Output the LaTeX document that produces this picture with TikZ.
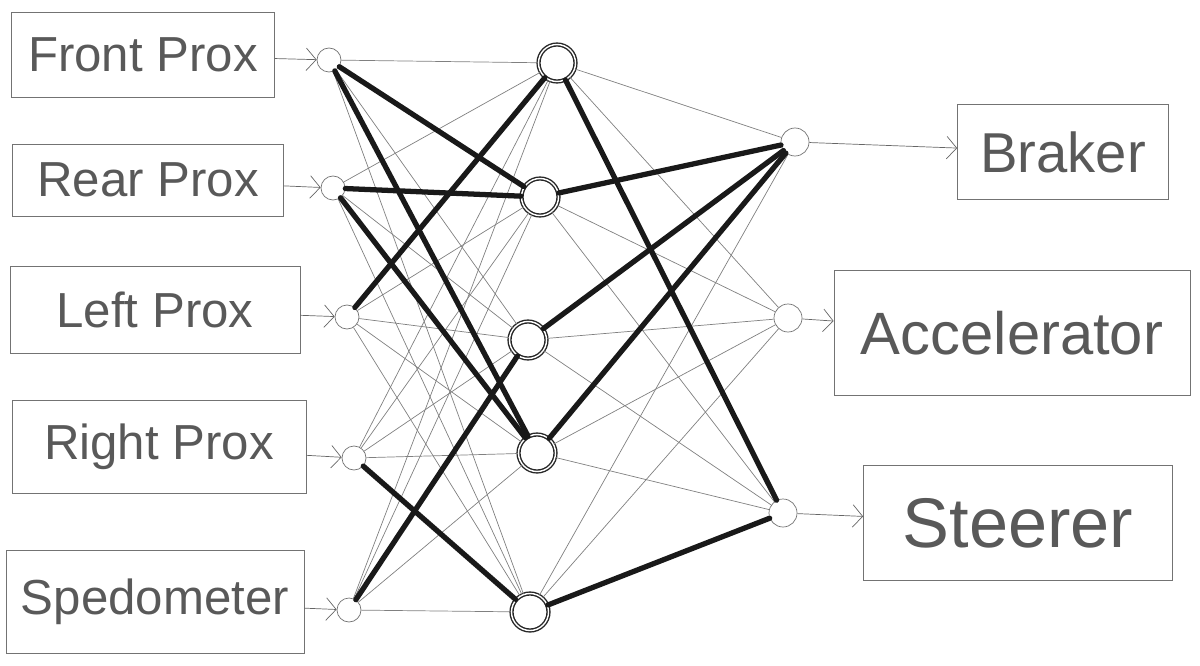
\documentclass[tikz,border=0pt]{standalone}
\usepackage{fontspec}
\setmainfont{Liberation Sans}
\usetikzlibrary{arrows.meta}

\tikzset{
  sensor/.style={draw=black!55, thin, text=black!65, font=\fontsize{28}{32}\selectfont, inner sep=0pt},
  output/.style={draw=black!55, thin, text=black!65, inner sep=0pt},
  in node/.style={circle, draw=black!55, thin, minimum size=4.8mm, inner sep=0pt},
  hidden node/.style={circle, draw=black!85, line width=0.8pt, double=white, double distance=0.8pt, minimum size=7.4mm, inner sep=0pt},
  out node/.style={circle, draw=black!55, thin, minimum size=5.6mm, inner sep=0pt},
  feed/.style={draw=black!60, thin, -{Straight Barb[length=2mm, width=4.5mm]}},
  mesh/.style={draw=black!50, thin},
  strong/.style={draw=black!90, line width=3pt, line cap=round}
}

\begin{document}
\begin{tikzpicture}[x=0.2mm, y=-0.2mm]
\useasboundingbox (0,0) rectangle (1200,665);

% sensors
\node[sensor, minimum width=52.6mm, minimum height=17mm] (front) at (143,55) {Front Prox};
\node[sensor, minimum width=54.2mm, minimum height=14.4mm] (rear) at (148,180) {Rear Prox};
\node[sensor, minimum width=58mm, minimum height=17.4mm] (left) at (155,310) {Left Prox};
\node[sensor, minimum width=58.8mm, minimum height=18.6mm] (right) at (159,447) {Right Prox};
\node[sensor, minimum width=59.6mm, minimum height=20.6mm] (speed) at (155,602) {Spedometer};

% input layer
\node[in node] (i1) at (329,60) {};
\node[in node] (i2) at (333,188) {};
\node[in node] (i3) at (347,317) {};
\node[in node] (i4) at (354,458) {};
\node[in node] (i5) at (349,610) {};

% hidden layer
\node[hidden node] (h1) at (557,63) {};
\node[hidden node] (h2) at (540,197) {};
\node[hidden node] (h3) at (528,340) {};
\node[hidden node] (h4) at (537,453) {};
\node[hidden node] (h5) at (530,612) {};

% output layer
\node[out node] (o1) at (795,142) {};
\node[out node] (o2) at (788,318) {};
\node[out node] (o3) at (783,513) {};

% controls
\node[output, minimum width=42.2mm, minimum height=19mm, font=\fontsize{32}{36}\selectfont] (brake) at (1063,152) {Braker};
\node[output, minimum width=71.2mm, minimum height=25mm, font=\fontsize{34}{38}\selectfont] (accel) at (1012,333) {Accelerator};
\node[output, minimum width=61.8mm, minimum height=23mm, font=\fontsize{40}{44}\selectfont] (steer) at (1018,523) {Steerer};

% inputs in, outputs out
\draw[feed] (front) -- (i1);
\draw[feed] (rear) -- (i2);
\draw[feed] (left) -- (i3);
\draw[feed] (right) -- (i4);
\draw[feed] (speed) -- (i5);
\draw[feed] (o1) -- (brake);
\draw[feed] (o2) -- (accel);
\draw[feed] (o3) -- (steer);

% all weights
\foreach \i in {1,...,5}
  \foreach \h in {1,...,5}
    \draw[mesh] (i\i) -- (h\h);
\foreach \h in {1,...,5}
  \foreach \o in {1,2,3}
    \draw[mesh] (h\h) -- (o\o);

% strong weights
\draw[strong] (i1) -- (h2);
\draw[strong] (i1) -- (h4);
\draw[strong] (i2) -- (h2);
\draw[strong] (i2) -- (h4);
\draw[strong] (i3) -- (h1);
\draw[strong] (i5) -- (h3);
\draw[strong] (i4) -- (h5);
\draw[strong] (h2) -- (o1);
\draw[strong] (h3) -- (o1);
\draw[strong] (h4) -- (o1);
\draw[strong] (h1) -- (o3);
\draw[strong] (h5) -- (o3);
\end{tikzpicture}
\end{document}
